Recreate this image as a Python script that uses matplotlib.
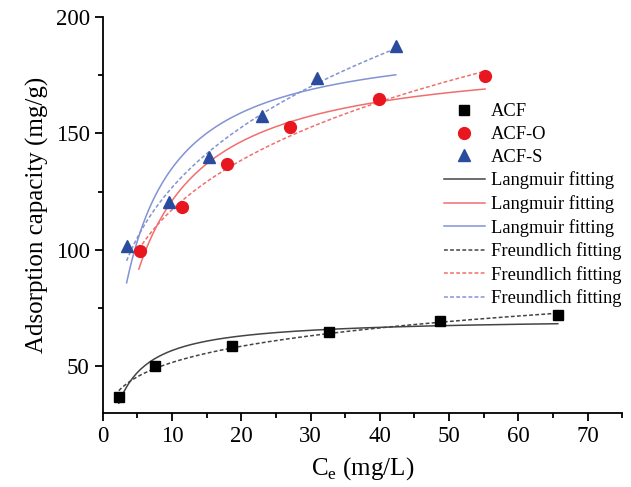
import numpy as np
import matplotlib
matplotlib.use("Agg")
import matplotlib.pyplot as plt

# ---------------------------------------------------------------------------
# Data
# ---------------------------------------------------------------------------
ce_acf = [2.35, 7.5, 18.6, 32.7, 48.7, 65.7]
qe_acf = [36.8, 50.3, 58.7, 64.7, 69.3, 71.9]

ce_acfo = [5.3, 11.5, 18.0, 27.0, 39.9, 55.2]
qe_acfo = [99.5, 118.4, 136.8, 152.9, 164.9, 174.7]

ce_acfs = [3.5, 9.6, 15.3, 23.0, 30.9, 42.3]
qe_acfs = [101.5, 120.8, 139.8, 157.3, 173.8, 187.6]

# fitted isotherm parameters (estimated from the drawn curves)
langmuir_qm = [70.9, 185.3, 192.9]
langmuir_kl = [0.404, 0.189, 0.234]
freundlich_kf = [34.0, 67.5, 68.6]
freundlich_n_inv = [0.182, 0.240, 0.267]

series_names = ["ACF", "ACF-O", "ACF-S"]

# ---------------------------------------------------------------------------
# Plot
# ---------------------------------------------------------------------------
plt.rcParams["font.family"] = ["Liberation Serif", "DejaVu Serif"]
plt.rcParams["mathtext.fontset"] = "custom"
plt.rcParams["mathtext.rm"] = "Liberation Serif"

fig = plt.figure(figsize=(6.31, 4.87), dpi=100)
ax = fig.add_axes([0.163, 0.152, 0.823, 0.813])

marker_colors = ["#000000", "#e8161e", "#2b4b9e"]
line_colors = ["#444444", "#f26e6e", "#8193d4"]
markers = ["s", "o", "^"]
msizes = [7.5, 8.5, 9]

ce_all = [ce_acf, ce_acfo, ce_acfs]
qe_all = [qe_acf, qe_acfo, qe_acfs]

pts, lang, freu = [], [], []
for i in range(3):
    c = np.linspace(min(ce_all[i]) * 0.98, max(ce_all[i]), 200)
    q_l = langmuir_qm[i] * langmuir_kl[i] * c / (1 + langmuir_kl[i] * c)
    q_f = freundlich_kf[i] * c ** freundlich_n_inv[i]
    (h,) = ax.plot(ce_all[i], qe_all[i], linestyle="none", marker=markers[i],
                   ms=msizes[i], color=marker_colors[i], zorder=5)
    pts.append(h)
    (hl,) = ax.plot(c, q_l, "-", color=line_colors[i], lw=1.1)
    lang.append(hl)
    (hf,) = ax.plot(c, q_f, linestyle=(0, (2.5, 1.5)), color=line_colors[i], lw=1.1)
    freu.append(hf)

ax.set_xlim(0, 75)
ax.set_ylim(30, 200)
ax.set_xticks(np.arange(0, 71, 10))
ax.set_xticks(np.arange(5, 76, 10), minor=True)
ax.set_yticks([50, 100, 150, 200])
ax.set_yticks([75, 125, 175], minor=True)

for s in ["top", "right"]:
    ax.spines[s].set_visible(False)
for s in ["left", "bottom"]:
    ax.spines[s].set_linewidth(1.3)
ax.tick_params(which="major", direction="out", length=6, width=1.3, labelsize=16.5)
ax.tick_params(which="minor", direction="out", length=3.5, width=1.3)

ax.set_xlabel("C$_\\mathregular{e}$ (mg/L)", fontsize=18, labelpad=6)
ax.set_ylabel("Adsorption capacity (mg/g)", fontsize=18, labelpad=5)

handles = pts + lang + freu
labels = series_names + ["Langmuir fitting"] * 3 + ["Freundlich fitting"] * 3
ax.legend(handles, labels, loc="upper left", bbox_to_anchor=(0.692, 0.803),
          bbox_transform=fig.transFigure, frameon=False, fontsize=13.3,
          handlelength=2.2, handletextpad=0.35, labelspacing=0.31,
          numpoints=1, borderaxespad=0)

fig.savefig("out.png", dpi=100)
